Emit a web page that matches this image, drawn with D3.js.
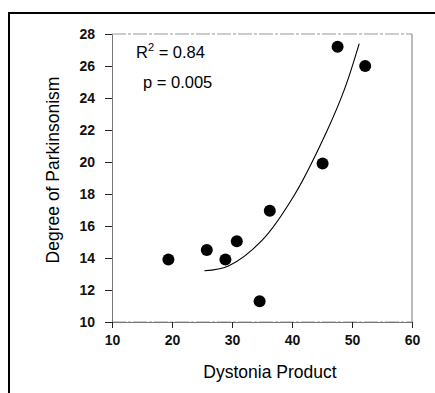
<!DOCTYPE html>
<html>
<head>
<meta charset="utf-8">
<script src="https://cdn.jsdelivr.net/npm/d3@7"></script>
<style>
  body { margin: 0; background: #fff; }
  text { font-family: "Liberation Sans", Arial, sans-serif; }
</style>
</head>
<body>
<div id="chart"></div>
<script>
// data
const dystonia = [19.4, 25.8, 28.9, 30.8, 34.6, 36.3, 45.1, 47.6, 52.2];
const parkinsonism = [13.9, 14.5, 13.9, 15.05, 11.3, 16.95, 19.9, 27.2, 26.0];
// fitted curve, points
const fitX = [25.4, 29.4, 35.0, 40.5, 45.9, 48.8, 51.2];
const fitY = [13.2, 13.5, 15.1, 18.0, 22.0, 24.6, 27.4];
const xTicks = [10, 20, 30, 40, 50, 60];
const yTicks = [10, 12, 14, 16, 18, 20, 22, 24, 26, 28];

const width = 435, height = 393;

const svg = d3.select("#chart")
    .append("svg")
    .attr("width", width)
    .attr("height", height);

// outer frame (top and left only)
svg.append("path")
    .attr("d", `M9,${height} L9,13 L${width},13`)
    .attr("fill", "none")
    .attr("stroke", "#000")
    .attr("stroke-width", 2);

const x = d3.scaleLinear().domain([10, 60]).range([112, 412]);
const y = d3.scaleLinear().domain([10, 28]).range([322, 34]);

// plot box
svg.append("line")
    .attr("x1", 112).attr("x2", 412).attr("y1", 34).attr("y2", 34)
    .attr("stroke", "#999").attr("stroke-dasharray", "14,2,3,2");
svg.append("line")
    .attr("x1", 112).attr("x2", 412).attr("y1", 322).attr("y2", 322)
    .attr("stroke", "#999").attr("stroke-dasharray", "14,2,3,2");
svg.append("line")
    .attr("x1", 412).attr("x2", 412).attr("y1", 34).attr("y2", 322)
    .attr("stroke", "#777");

// axes
const yAxis = svg.append("g")
    .attr("transform", "translate(112,0)")
    .call(d3.axisLeft(y).tickValues(yTicks).tickSize(7).tickPadding(10));
const xAxis = svg.append("g")
    .attr("transform", "translate(0,322)")
    .call(d3.axisBottom(x).tickValues(xTicks).tickSize(6).tickPadding(7));

[xAxis, yAxis].forEach(g => {
    g.select(".domain").attr("stroke", "#777");
    g.selectAll(".tick line").attr("stroke", "#222");
    g.selectAll(".tick text")
        .attr("fill", "#111")
        .style("font-family", "'Liberation Sans', Arial, sans-serif")
        .style("font-size", "14px")
        .style("font-weight", "bold");
});

// axis titles
svg.append("text")
    .attr("x", 270).attr("y", 378)
    .attr("text-anchor", "middle")
    .style("font-size", "17.5px")
    .text("Dystonia Product");

svg.append("text")
    .attr("transform", "translate(59,170) rotate(-90)")
    .attr("text-anchor", "middle")
    .style("font-size", "17.5px")
    .text("Degree of Parkinsonism");

// fit curve
const fitPts = fitX.map((v, i) => [v, fitY[i]]);
svg.append("path")
    .datum(fitPts)
    .attr("fill", "none")
    .attr("stroke", "#000")
    .attr("stroke-width", 1.1)
    .attr("d", d3.line()
        .x(d => x(d[0]))
        .y(d => y(d[1]))
        .curve(d3.curveCatmullRom));

// points
svg.selectAll("circle.pt")
    .data(dystonia.map((v, i) => [v, parkinsonism[i]]))
    .enter().append("circle")
    .attr("class", "pt")
    .attr("cx", d => x(d[0]))
    .attr("cy", d => y(d[1]))
    .attr("r", 6)
    .attr("fill", "#000");

// statistics
const stats = svg.append("g").style("font-size", "16.5px");
const r2 = stats.append("text").attr("x", 136).attr("y", 58);
r2.append("tspan").text("R");
r2.append("tspan").attr("dy", -7).style("font-size", "11px").text("2");
r2.append("tspan").attr("dy", 7).text(" = 0.84");
stats.append("text").attr("x", 143).attr("y", 88).text("p = 0.005");
</script>
</body>
</html>
